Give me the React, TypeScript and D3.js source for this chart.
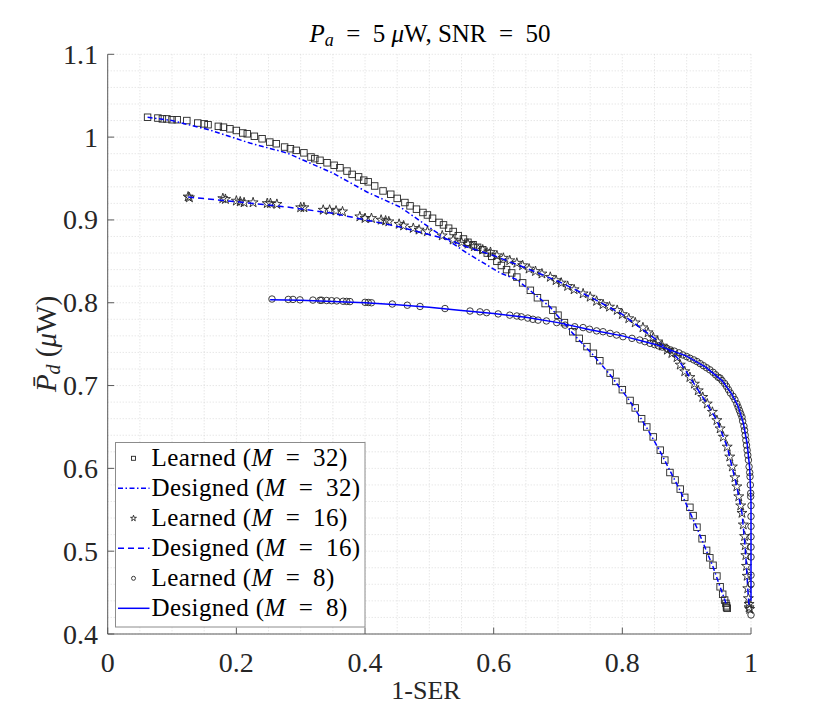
import React from "react";
import * as d3 from "d3";

// ---------- data ----------
const xTicks = [0, 0.2, 0.4, 0.6, 0.8, 1];
const xTickLabels = ["0", "0.2", "0.4", "0.6", "0.8", "1"];
const yTicks = [0.4, 0.5, 0.6, 0.7, 0.8, 0.9, 1.0, 1.1];
const yTickLabels = ["0.4", "0.5", "0.6", "0.7", "0.8", "0.9", "1", "1.1"];

const learned32: [number, number][] = [
  [0.062, 1.024], [0.078, 1.023], [0.085, 1.022], [0.092, 1.022], [0.1, 1.021], [0.108, 1.021],
  [0.123, 1.02], [0.14, 1.017], [0.15, 1.016], [0.156, 1.015], [0.172, 1.013], [0.18, 1.012],
  [0.19, 1.01], [0.2, 1.008], [0.21, 1.005], [0.217, 1.004], [0.228, 1.001], [0.24, 0.998],
  [0.252, 0.994], [0.262, 0.992], [0.275, 0.988], [0.284, 0.986], [0.293, 0.984], [0.305, 0.981],
  [0.316, 0.976], [0.322, 0.974], [0.33, 0.972], [0.341, 0.969], [0.352, 0.966], [0.361, 0.963],
  [0.372, 0.959], [0.38, 0.955], [0.39, 0.952], [0.398, 0.948], [0.405, 0.946], [0.415, 0.941],
  [0.428, 0.935], [0.44, 0.931], [0.45, 0.926], [0.462, 0.921], [0.47, 0.917], [0.48, 0.913],
  [0.49, 0.909], [0.497, 0.906], [0.505, 0.902], [0.515, 0.897], [0.522, 0.894], [0.53, 0.89],
  [0.537, 0.886], [0.545, 0.881], [0.553, 0.877], [0.56, 0.873], [0.568, 0.87], [0.575, 0.867],
  [0.583, 0.864], [0.59, 0.86], [0.597, 0.856], [0.605, 0.85], [0.612, 0.845], [0.62, 0.84],
  [0.628, 0.836], [0.636, 0.831], [0.645, 0.824], [0.657, 0.815], [0.668, 0.806], [0.68, 0.799],
  [0.692, 0.791], [0.7, 0.785], [0.71, 0.776], [0.723, 0.765], [0.733, 0.757], [0.745, 0.747],
  [0.755, 0.739], [0.765, 0.73], [0.781, 0.715], [0.79, 0.705], [0.8, 0.695], [0.812, 0.682],
  [0.82, 0.673], [0.83, 0.66], [0.838, 0.65], [0.848, 0.638], [0.859, 0.622], [0.866, 0.61],
  [0.874, 0.595], [0.882, 0.586], [0.89, 0.575], [0.897, 0.565], [0.905, 0.553], [0.91, 0.543],
  [0.916, 0.529], [0.924, 0.515], [0.931, 0.501], [0.936, 0.492], [0.941, 0.483], [0.947, 0.47],
  [0.952, 0.457], [0.956, 0.448], [0.959, 0.441], [0.961, 0.437], [0.962, 0.434], [0.962, 0.432],
  [0.963, 0.431],
];

const designed32: [number, number][] = [
  [0.062, 1.024], [0.1, 1.02], [0.159, 1.0085], [0.221, 0.9928], [0.279, 0.9808], [0.35, 0.9566],
  [0.403, 0.9337], [0.4545, 0.9156], [0.506, 0.8878], [0.5585, 0.86], [0.61, 0.836], [0.636, 0.828],
  [0.6875, 0.795], [0.723, 0.763], [0.7545, 0.737], [0.781, 0.713], [0.812, 0.681], [0.838, 0.649],
  [0.859, 0.62], [0.89, 0.573], [0.916, 0.528], [0.941, 0.481], [0.962, 0.435],
];

const learned16: [number, number][] = [
  [0.125, 0.928], [0.127, 0.927], [0.179, 0.926], [0.183, 0.925], [0.2, 0.923], [0.206, 0.922],
  [0.212, 0.921], [0.226, 0.921], [0.248, 0.92], [0.253, 0.92], [0.263, 0.919], [0.3, 0.915],
  [0.305, 0.915], [0.335, 0.912], [0.345, 0.912], [0.355, 0.911], [0.365, 0.91], [0.392, 0.904],
  [0.4, 0.902], [0.41, 0.902], [0.425, 0.9], [0.432, 0.899], [0.437, 0.898], [0.453, 0.895],
  [0.46, 0.893], [0.475, 0.89], [0.484, 0.888], [0.497, 0.886], [0.52, 0.881], [0.537, 0.876],
  [0.55, 0.873], [0.56, 0.871], [0.57, 0.868], [0.583, 0.864], [0.595, 0.861], [0.605, 0.857],
  [0.615, 0.854], [0.625, 0.851], [0.636, 0.848], [0.645, 0.845], [0.655, 0.841], [0.665, 0.838],
  [0.675, 0.835], [0.688, 0.831], [0.697, 0.827], [0.705, 0.824], [0.715, 0.82], [0.725, 0.816],
  [0.739, 0.811], [0.75, 0.807], [0.76, 0.802], [0.77, 0.798], [0.78, 0.795], [0.792, 0.791],
  [0.8, 0.786], [0.81, 0.781], [0.82, 0.776], [0.832, 0.77], [0.84, 0.764], [0.848, 0.758],
  [0.855, 0.753], [0.862, 0.748], [0.87, 0.743], [0.877, 0.739], [0.885, 0.734], [0.89, 0.725],
  [0.897, 0.717], [0.905, 0.71], [0.912, 0.702], [0.918, 0.694], [0.925, 0.686], [0.932, 0.678],
  [0.94, 0.668], [0.947, 0.658], [0.952, 0.648], [0.957, 0.638], [0.963, 0.626], [0.967, 0.614],
  [0.971, 0.602], [0.975, 0.589], [0.978, 0.578], [0.981, 0.566], [0.984, 0.555], [0.986, 0.546],
  [0.988, 0.532], [0.99, 0.518], [0.991, 0.507], [0.992, 0.495], [0.993, 0.482], [0.994, 0.47],
  [0.995, 0.455], [0.996, 0.443], [0.997, 0.436], [0.997, 0.432], [0.998, 0.43],
];

const designed16: [number, number][] = [
  [0.125, 0.9276], [0.2, 0.922], [0.279, 0.9156], [0.35, 0.908], [0.4545, 0.8915], [0.532, 0.8758],
  [0.5585, 0.8674], [0.6, 0.857], [0.65, 0.842], [0.7, 0.826], [0.75, 0.807], [0.8, 0.786],
  [0.85, 0.757], [0.885, 0.734], [0.905, 0.71], [0.925, 0.686], [0.947, 0.658], [0.963, 0.626],
  [0.978, 0.578], [0.986, 0.546], [0.991, 0.505], [0.995, 0.455], [0.997, 0.433],
];

const learned8: [number, number][] = [
  [0.2554, 0.8045], [0.2807, 0.804], [0.288, 0.804], [0.2989, 0.8035], [0.319, 0.8032], [0.33, 0.803],
  [0.3326, 0.803], [0.3404, 0.8027], [0.348, 0.8025], [0.356, 0.8022], [0.366, 0.8018], [0.3715, 0.8016],
  [0.3766, 0.8014], [0.4, 0.8005], [0.405, 0.8003], [0.41, 0.8], [0.4424, 0.7985], [0.4657, 0.797],
  [0.4855, 0.7955], [0.5243, 0.793], [0.5632, 0.79], [0.5787, 0.789], [0.589, 0.788], [0.607, 0.7865],
  [0.625, 0.785], [0.636, 0.784], [0.643, 0.783], [0.653, 0.7815], [0.661, 0.78], [0.669, 0.779],
  [0.682, 0.778], [0.698, 0.776], [0.711, 0.773], [0.726, 0.771], [0.739, 0.77], [0.749, 0.768],
  [0.76, 0.766], [0.77, 0.765], [0.781, 0.763], [0.791, 0.761], [0.801, 0.759], [0.815, 0.757],
  [0.827, 0.755], [0.835, 0.753], [0.843, 0.751], [0.85, 0.7495], [0.856, 0.748], [0.862, 0.7465],
  [0.869, 0.745], [0.875, 0.743], [0.881, 0.7415], [0.888, 0.7395], [0.894, 0.737], [0.9, 0.735],
  [0.905, 0.733], [0.911, 0.731], [0.916, 0.729], [0.921, 0.7265], [0.926, 0.724], [0.931, 0.7215],
  [0.936, 0.719], [0.941, 0.716], [0.945, 0.713], [0.949, 0.71], [0.952, 0.709], [0.955, 0.706],
  [0.959, 0.7025], [0.962, 0.699], [0.965, 0.695], [0.968, 0.691], [0.972, 0.687], [0.975, 0.683],
  [0.978, 0.678], [0.98, 0.674], [0.982, 0.67], [0.984, 0.666], [0.986, 0.662], [0.987, 0.657],
  [0.989, 0.651], [0.99, 0.646], [0.991, 0.64], [0.992, 0.634], [0.993, 0.628], [0.994, 0.622],
  [0.995, 0.616], [0.996, 0.61], [0.997, 0.602], [0.998, 0.595], [0.9985, 0.59], [0.999, 0.58],
  [0.9995, 0.57], [0.9995, 0.566], [1.0, 0.555], [1.0, 0.542], [1.0, 0.53], [1.0, 0.5175],
  [1.0, 0.505], [1.0, 0.493], [1.0, 0.471], [1.0, 0.46], [1.0, 0.423],
];

const designed8: [number, number][] = [
  [0.2525, 0.8035], [0.3, 0.803], [0.35, 0.8015], [0.4, 0.8], [0.45, 0.7975], [0.5, 0.7945],
  [0.55, 0.7905], [0.6, 0.787], [0.65, 0.7825], [0.7, 0.776], [0.75, 0.7675], [0.8, 0.76],
  [0.85, 0.75], [0.9, 0.7355], [0.93, 0.722], [0.955, 0.706], [0.97, 0.69], [0.98, 0.675],
  [0.988, 0.655], [0.994, 0.63], [0.998, 0.6], [1.0, 0.56], [1.0, 0.44],
];

const legendLabels = ["Learned", "Designed", "Learned", "Designed", "Learned", "Designed"];
const legendM = ["32", "32", "16", "16", "8", "8"];

// ---------- layout ----------
const W = 830;
const H = 714;
const L = 107.7, R = 751, T = 54.3, B = 634;
const SERIF = '"Liberation Serif", "DejaVu Serif", serif';
const BLUE = "#0000ff";
const MK = "#262626";
const TXT: React.CSSProperties = { fontFamily: SERIF };
const EN = "\u2002";

const x = d3.scaleLinear().domain([0, 1]).range([L, R]);
const y = d3.scaleLinear().domain([0.4, 1.1]).range([B, T]);
const line = d3.line<[number, number]>().x((d) => x(d[0])).y((d) => y(d[1]));

function starPath(cx: number, cy: number, r: number) {
  const ri = r * 0.382;
  const pts: string[] = [];
  for (let i = 0; i < 10; i++) {
    const rr = i % 2 === 0 ? r : ri;
    const a = -Math.PI / 2 + (i * Math.PI) / 5;
    pts.push(`${(cx + rr * Math.cos(a)).toFixed(2)},${(cy + rr * Math.sin(a)).toFixed(2)}`);
  }
  return "M" + pts.join("L") + "Z";
}

function Marker({ kind, cx, cy, s }: { kind: string; cx: number; cy: number; s: number }) {
  if (kind === "square")
    return <rect x={cx - s / 2} y={cy - s / 2} width={s} height={s} fill="none" stroke={MK} strokeWidth={0.9} />;
  if (kind === "circle") return <circle cx={cx} cy={cy} r={s / 2} fill="none" stroke={MK} strokeWidth={0.9} />;
  return <path d={starPath(cx, cy, s * 0.62)} fill="none" stroke={MK} strokeWidth={0.9} />;
}

export default function App() {
  const xMinor = d3.range(0, 1.0001, 0.05);
  const yMinor = d3.range(0.4, 1.1001, 0.02);
  const series = [
    { kind: "square", data: learned32 },
    { kind: "line", data: designed32, dash: "5,2.5,1.5,2.5" },
    { kind: "star", data: learned16 },
    { kind: "line", data: designed16, dash: "6,4" },
    { kind: "circle", data: learned8 },
    { kind: "line", data: designed8, dash: "" },
  ];
  const legX0 = 115.5, legY0 = 442.5, legW = 249.5, legH = 184.5;
  return (
    <svg width={W} height={H} style={{ position: "absolute", left: 0, top: 0, background: "#fff" }}>
      <rect width={W} height={H} fill="#fff" />
      {/* grid */}
      <g stroke="#d4d4d4" strokeWidth={0.8} strokeDasharray="1,2">
        {xMinor.map((v, i) => (
          <line key={"gx" + i} x1={x(v)} x2={x(v)} y1={T} y2={B} />
        ))}
        {yMinor.map((v, i) => (
          <line key={"gy" + i} x1={L} x2={R} y1={y(v)} y2={y(v)} />
        ))}
      </g>
      {/* series */}
      {series.map((s, i) =>
        s.kind === "line" ? (
          <path key={"s" + i} d={line(s.data) || ""} fill="none" stroke={BLUE} strokeWidth={1.5}
            strokeDasharray={s.dash || undefined} />
        ) : (
          <g key={"s" + i}>
            {s.data.map((d, j) => (
              <Marker key={j} kind={s.kind} cx={x(d[0])} cy={y(d[1])} s={s.kind === "star" ? 8.5 : 6.5} />
            ))}
          </g>
        )
      )}
      {/* axes */}
      <g stroke="#5a5a5a" strokeWidth={1}>
        <line x1={L} x2={L} y1={T} y2={B} />
        <line x1={L} x2={R} y1={B} y2={B} />
        {xTicks.map((v, i) => (
          <line key={"tx" + i} x1={x(v)} x2={x(v)} y1={B} y2={B - 6.4} />
        ))}
        {yTicks.map((v, i) => (
          <line key={"ty" + i} x1={L} x2={L + 6.4} y1={y(v)} y2={y(v)} />
        ))}
      </g>
      <g fill="#262626">
        {xTicks.map((v, i) => (
          <text key={"lx" + i} x={x(v)} y={672} textAnchor="middle" fontSize={28} style={TXT}>{xTickLabels[i]}</text>
        ))}
        {yTicks.map((v, i) => (
          <text key={"ly" + i} x={98} y={y(v) + 9.5} textAnchor="end" fontSize={28} style={TXT}>{yTickLabels[i]}</text>
        ))}
      </g>
      {/* title */}
      <text x={430} y={42} textAnchor="middle" fontSize={25} fill="#000" style={TXT}>
        <tspan fontStyle="italic">P</tspan>
        <tspan fontStyle="italic" fontSize={18} dy={4}>a</tspan>
        <tspan dy={-4}>{EN + "=" + EN + "5 "}</tspan>
        <tspan fontStyle="italic">μ</tspan>
        <tspan>{"W, SNR" + EN + "=" + EN + "50"}</tspan>
      </text>
      {/* x label */}
      <text x={426} y={699} textAnchor="middle" fontSize={26} fill="#262626" style={TXT}>1-SER</text>
      {/* y label */}
      <text transform={`translate(56,344) rotate(-90)`} textAnchor="middle" fontSize={29} fill="#262626" style={TXT}>
        <tspan fontStyle="italic">{"P\u0304"}</tspan>
        <tspan fontStyle="italic" fontSize={20} dy={4}>d</tspan>
        <tspan dy={-4}>{" ("}</tspan>
        <tspan fontStyle="italic">μ</tspan>
        <tspan>{"W)"}</tspan>
      </text>
      {/* legend */}
      <rect x={legX0} y={legY0} width={legW} height={legH} fill="#fff" stroke="#8c8c8c" strokeWidth={1} />
      {legendLabels.map((lab, i) => {
        const cy = 458.3 + i * 30;
        const kinds = ["square", "line", "star", "line", "circle", "line"];
        const dashes = ["", "5,2.5,1.5,2.5", "", "6,4", "", ""];
        return (
          <g key={"lg" + i}>
            {kinds[i] === "line" ? (
              <line x1={118} x2={149.5} y1={cy} y2={cy} stroke={BLUE} strokeWidth={1.5}
                strokeDasharray={dashes[i] || undefined} />
            ) : (
              <Marker kind={kinds[i]} cx={133.5} cy={cy} s={kinds[i] === "star" ? 5 : 4} />
            )}
            <text x={151.5} y={cy + 8} fontSize={25} letterSpacing={0.4} fill="#000" style={TXT}>
              {lab + " ("}
              <tspan fontStyle="italic">M</tspan>
              {EN + "=" + EN + legendM[i] + ")"}
            </text>
          </g>
        );
      })}
    </svg>
  );
}
